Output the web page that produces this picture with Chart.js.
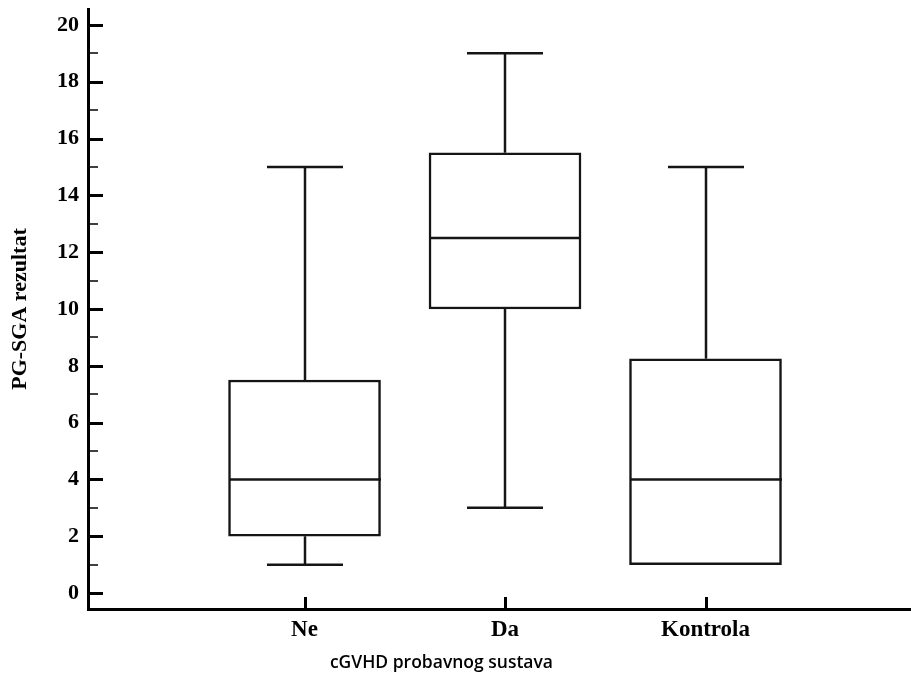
<!DOCTYPE html>
<html>
<head>
<meta charset="utf-8">
<script src="https://cdn.jsdelivr.net/npm/chart.js@4.4.1/dist/chart.umd.min.js"></script>
<style>
  html, body { margin: 0; padding: 0; background: #fff; }
  .wrap { width: 911px; height: 681px; position: relative; }
</style>
</head>
<body>
<div class="wrap"><canvas id="boxChart"></canvas></div>
<script>
const categories = ['Ne', 'Da', 'Kontrola'];
const xPositions = [1, 2, 3];
const whiskerLow = [1, 3, 1];
const q1 = [2, 10, 1];
const medians = [4, 12.5, 4];
const q3 = [7.5, 15.5, 8.25];
const whiskerHigh = [15, 19, 15];
const yMajorTicks = [0, 2, 4, 6, 8, 10, 12, 14, 16, 18, 20];
const yMinorTicks = [1, 3, 5, 7, 9, 11, 13, 15, 17, 19];

const ink = '#151515';
const serif = 'Liberation Serif, Times New Roman, serif';

// medians, whiskers, caps and the inward tick marks
const boxParts = {
  id: 'boxParts',
  afterDatasetsDraw(chart) {
    const ctx = chart.ctx;
    const x = chart.scales.x;
    const y = chart.scales.y;
    const bars = chart.getDatasetMeta(0).data;
    const line = (x1, y1, x2, y2) => {
      ctx.beginPath();
      ctx.moveTo(x1, y1);
      ctx.lineTo(x2, y2);
      ctx.stroke();
    };
    ctx.save();
    ctx.strokeStyle = ink;
    ctx.lineWidth = 2.5;
    categories.forEach((c, i) => {
      const cx = Math.round(x.getPixelForValue(xPositions[i]));
      const half = bars[i].width / 2;
      const capHalf = half / 2;
      const yLow = y.getPixelForValue(whiskerLow[i]);
      const yQ1 = y.getPixelForValue(q1[i]);
      const yMed = y.getPixelForValue(medians[i]);
      const yQ3 = y.getPixelForValue(q3[i]);
      const yHigh = y.getPixelForValue(whiskerHigh[i]);
      if (whiskerLow[i] < q1[i]) {
        line(cx, yLow, cx, yQ1);
        line(cx - capHalf, yLow, cx + capHalf, yLow);
      }
      line(cx, yQ3, cx, yHigh);
      line(cx - capHalf, yHigh, cx + capHalf, yHigh);
      line(cx - half, yMed, cx + half, yMed);
    });

    const area = chart.chartArea;
    ctx.strokeStyle = '#000';
    ctx.lineWidth = 3;
    yMajorTicks.forEach(v => {
      const py = Math.round(y.getPixelForValue(v)) + 0.5;
      line(area.left, py, area.left + 15, py);
    });
    ctx.lineWidth = 1.5;
    yMinorTicks.forEach(v => {
      const py = Math.round(y.getPixelForValue(v));
      line(area.left, py, area.left + 10, py);
    });
    ctx.lineWidth = 3;
    xPositions.forEach(v => {
      const px = Math.round(x.getPixelForValue(v)) + 0.5;
      line(px, area.bottom, px, area.bottom - 12);
    });

    // x axis title sits left of the plot centre in the original
    ctx.fillStyle = '#000';
    ctx.font = '600 17.5px "Open Sans", sans-serif';
    ctx.textAlign = 'center';
    ctx.textBaseline = 'middle';
    ctx.fillText('cGVHD probavnog sustava', area.left + (area.right - area.left) * 0.43, area.bottom + 54);
    ctx.restore();
  }
};

new Chart(document.getElementById('boxChart'), {
  type: 'bar',
  data: {
    datasets: [{
      label: 'PG-SGA',
      data: categories.map((c, i) => ({ x: xPositions[i], y: [q1[i], q3[i]] })),
      backgroundColor: '#ffffff',
      borderColor: ink,
      borderWidth: 2.5,
      borderSkipped: false,
      barThickness: 152
    }]
  },
  options: {
    responsive: true,
    maintainAspectRatio: false,
    animation: false,
    layout: { padding: { top: 9, right: 1, left: 0, bottom: 0 } },
    plugins: {
      legend: { display: false },
      tooltip: { enabled: false }
    },
    scales: {
      x: {
        type: 'linear',
        offset: false,
        min: -0.08,
        max: 4.02,
        grid: { display: false, drawTicks: false, offset: false },
        border: { display: true, color: '#000', width: 3 },
        afterBuildTicks: s => { s.ticks = xPositions.map(v => ({ value: v })); },
        afterFit: s => { s.height = 72; s.paddingLeft = 0; s.paddingRight = 0; },
        ticks: {
          color: '#000',
          padding: 7,
          maxRotation: 0,
          autoSkip: false,
          font: { family: serif, size: 23, weight: 'bold' },
          callback: v => categories[xPositions.indexOf(v)] || ''
        }
      },
      y: {
        min: -0.56,
        max: 20.56,
        grid: { display: false, drawTicks: false },
        border: { display: true, color: '#000', width: 3 },
        afterBuildTicks: s => { s.ticks = yMajorTicks.map(v => ({ value: v })); },
        afterFit: s => { s.width = 88; s.paddingTop = 0; s.paddingBottom = 0; },
        ticks: {
          color: '#000',
          padding: 9,
          font: { family: serif, size: 22, weight: 'bold' }
        },
        title: {
          display: true,
          text: 'PG-SGA rezultat',
          color: '#000',
          padding: { top: 7, bottom: 0 },
          font: { family: serif, size: 22, weight: 'bold' }
        }
      }
    }
  },
  plugins: [boxParts]
});
</script>
</body>
</html>
